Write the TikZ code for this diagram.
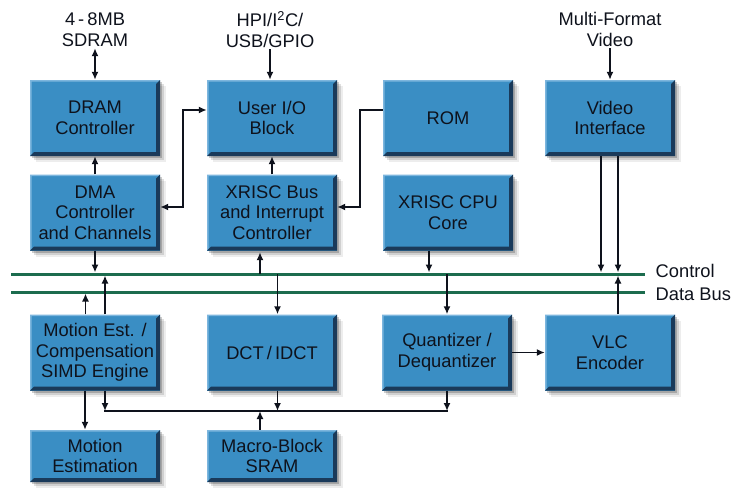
\documentclass[tikz,border=0pt]{standalone}
\usepackage{fontspec}
\setmainfont{Liberation Sans}
\usetikzlibrary{shadows,arrows.meta,calc}
\definecolor{boxblue}{RGB}{58,142,196}
\definecolor{boxdark}{RGB}{26,58,90}
\definecolor{boxlight}{RGB}{125,182,222}
\definecolor{busgreen}{RGB}{28,108,78}
\definecolor{txt}{RGB}{14,18,28}
\newcommand{\pbb}{path picture bounding box}
\begin{document}
\begin{tikzpicture}[x=1pt,y=-1pt,
  blk/.style={minimum width=130pt, minimum height=76pt, inner sep=0pt, align=center,
    fill=boxblue, text=txt, font=\fontsize{18.3}{20.5}\selectfont,
    drop shadow={shadow xshift=6pt,shadow yshift=-6pt,opacity=.07,fill=black},
    drop shadow={shadow xshift=4pt,shadow yshift=-4pt,opacity=.12,fill=black},
    drop shadow={shadow xshift=2pt,shadow yshift=-2pt,opacity=.2,fill=black},
    path picture={
      \fill[boxlight] (\pbb.north west) -- (\pbb.north east) -- ([shift={(-1.5pt,-1.5pt)}]\pbb.north east)
        -- ([shift={(1.5pt,-1.5pt)}]\pbb.north west) -- ([shift={(1.5pt,1.5pt)}]\pbb.south west) -- (\pbb.south west) -- cycle;
      \fill[boxdark] (\pbb.south west) -- (\pbb.south east) -- (\pbb.north east)
        -- ([shift={(-4pt,-4pt)}]\pbb.north east) -- ([shift={(-4pt,4pt)}]\pbb.south east)
        -- ([shift={(4pt,4pt)}]\pbb.south west) -- cycle;}},
  lbl/.style={align=center, text=txt, inner sep=1.5pt, font=\fontsize{18.3}{21}\selectfont},
  arr/.style={line width=1.7pt, draw=txt, -{Latex[length=8pt,width=7pt]}},
  darr/.style={line width=1.7pt, draw=txt, {Latex[length=8pt,width=7pt]}-{Latex[length=8pt,width=7pt]}},
  bus/.style={line width=3pt, draw=busgreen},
  lbus/.style={line width=1.6pt, draw=txt}]
\useasboundingbox (0,0) rectangle (735,491);
\fill[white] (0,0) rectangle (735,491);

% boxes
\node[blk] (dram) at (95,118) {DRAM\\Controller};
\node[blk] (uio) at (272,118) {User I/O\\Block};
\node[blk] (rom) at (448,118) {ROM};
\node[blk] (vid) at (610,118) {Video\\Interface};
\node[blk] (dma) at (95,212.5) {DMA\\Controller\\and Channels};
\node[blk] (xbus) at (272,212.5) {XRISC Bus\\and Interrupt\\Controller};
\node[blk] (cpu) at (448,212.5) {XRISC CPU\\Core};
\node[blk] (mest) at (95,352.5) {Motion Est. /\\Compensation\\SIMD Engine};
\node[blk] (dct) at (272,352.5) {DCT\,/\,IDCT};
\node[blk] (quant) at (447,352.5) {Quantizer /\\Dequantizer};
\node[blk] (vlc) at (610,352.5) {VLC\\Encoder};
\node[blk, minimum height=52pt] (me2) at (95,456) {Motion\\Estimation};
\node[blk, minimum height=52pt] (mbs) at (272,456) {Macro-Block\\SRAM};

% external labels
\node[lbl] (sdram) at (95,29.5) {4\,-\,8MB\\SDRAM};
\node[lbl] (hpi) at (270,29.5) {HPI/I\textsuperscript{2}C/\\USB/GPIO};
\node[lbl] (mfv) at (610,29.5) {Multi-Format\\Video};

% buses
\coordinate (cL) at (11,274);
\coordinate (cR) at (645,274);
\coordinate (dL) at (11,292);
\coordinate (dR) at (645,292);
\draw[bus] (cL) -- (cR);
\draw[bus] (dL) -- (dR);
\node[lbl, anchor=west] (ctl) at (654,271) {Control};
\node[lbl, anchor=west] (dbl) at (654,294) {Data Bus};

% top arrows
\draw[darr] (sdram.south) -- (dram.north);
\draw[arr] (hpi.south) -- (hpi.south |- uio.north);
\draw[arr] (mfv.south) -- (vid.north);
\draw[arr] (dma.north) -- (dram.south);
\draw[arr] (xbus.north) -- (uio.south);
\draw[darr] ($(dma.east)+(0,-5.5)$) -- ++(23,0) |- ($(uio.west)+(0,-8)$);
\draw[arr] ($(rom.west)+(0,-8)$) -- ++(-23,0) |- ($(xbus.east)+(0,-5.5)$);

% to/from control and data bus
\coordinate (xb1) at ($(xbus.south)+(-12,0)$);
\coordinate (dc1) at ($(dct.north)+(5.5,0)$);
\coordinate (cp1) at ($(cpu.south)+(-19,0)$);
\coordinate (v1) at ($(vid.south)+(-9,0)$);
\coordinate (v2) at ($(vid.south)+(8,0)$);
\coordinate (vl1) at ($(vlc.north)+(8,0)$);
\coordinate (m1) at ($(mest.north)+(-9.5,0)$);
\coordinate (m2) at ($(mest.north)+(10,0)$);
\draw[arr, shorten >=1.5pt] (dma.south) -- (dma.south |- cL);
\draw[arr, shorten >=1.5pt] (xb1 |- cL) -- (xb1);
\draw[arr] (dc1 |- cL) -- (dc1);
\draw[arr, shorten >=1.5pt] (cp1) -- (cp1 |- cL);
\draw[arr] (quant.north |- cL) -- (quant.north);
\draw[arr, shorten >=1.5pt] (v1) -- (v1 |- cL);
\draw[arr, shorten >=1.5pt] (v2) -- (v2 |- cL);
\draw[arr, shorten >=1.5pt] (vl1) -- (vl1 |- cL);
\draw[arr, shorten >=1.5pt] (m1) -- (m1 |- dL);
\draw[arr, shorten >=1.5pt] (m2) -- (m2 |- cL);

% lower local bus
\coordinate (lbL) at (104,411);
\coordinate (lbR) at (448,411);
\draw[lbus] (lbL) -- (lbR);
\coordinate (m3) at ($(mest.south)+(-10,0)$);
\coordinate (m4) at ($(mest.south)+(10,0)$);
\coordinate (dc2) at ($(dct.south)+(5.5,0)$);
\coordinate (mb1) at ($(mbs.north)+(-12,0)$);
\draw[arr] (m3) -- (m3 |- me2.north);
\draw[arr] (m4) -- (m4 |- lbL);
\draw[arr] (dc2) -- (dc2 |- lbL);
\draw[arr] (quant.south) -- (quant.south |- lbL);
\draw[arr] (mb1) -- (mb1 |- lbL);
\draw[arr] (quant.east) -- (vlc.west);
\end{tikzpicture}
\end{document}
